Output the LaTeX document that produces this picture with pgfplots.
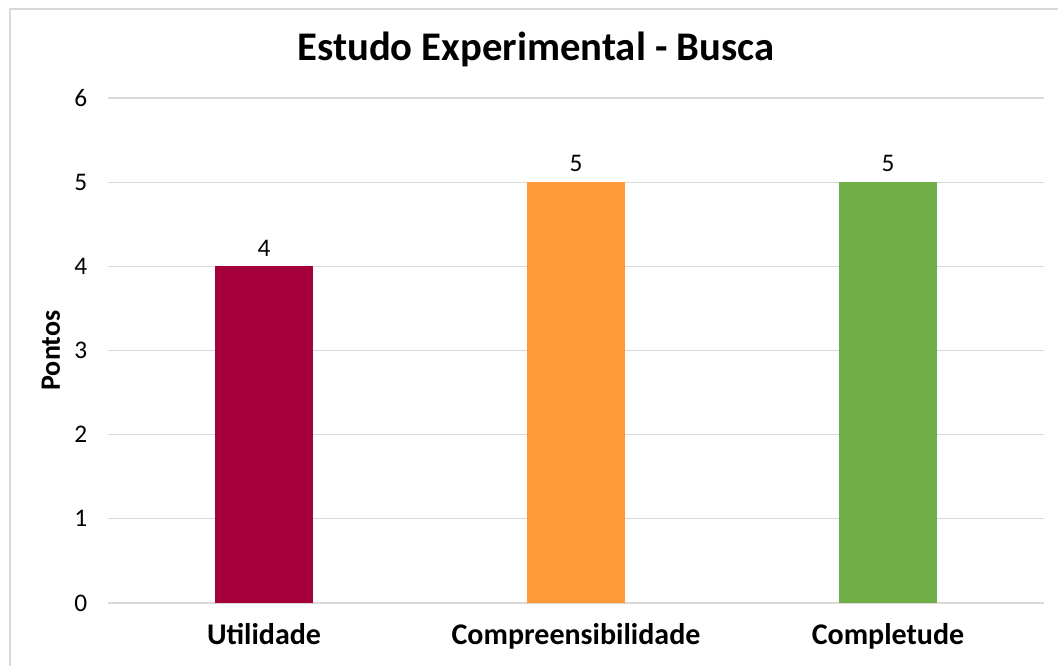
\documentclass[border=0pt]{standalone}
\usepackage{fontspec}
\setmainfont{Carlito}
\usepackage{pgfplots}
\pgfplotsset{compat=1.18}
\definecolor{cA}{HTML}{A5003C}
\definecolor{cB}{HTML}{FF9A3A}
\definecolor{cC}{HTML}{70AD47}
\definecolor{gridc}{HTML}{D9D9D9}
\begin{document}
\begin{tikzpicture}
\begin{axis}[
  at={(0,0)}, anchor=south west,
  scale only axis, width=702pt, height=378.75pt,
  xmin=-0.5, xmax=2.5, ymin=0, ymax=6,
  ytick={0,1,2,3,4,5,6},
  xtick={0,1,2},
  xticklabels={Utilidade,Compreensibilidade,Completude},
  x tick label style={font=\fontsize{22.5}{26}\selectfont\bfseries, yshift=-12pt},
  y tick label style={font=\fontsize{19}{22}\selectfont, xshift=-12pt},
  /pgf/number format/assume math mode=true,
  axis line style={draw=none},
  major tick length=0pt,
  ymajorgrids, grid style={gridc, line width=0.8pt},
  axis x line*=bottom,
  x axis line style={draw=gridc, line width=0.8pt},
  ylabel={\fontsize{21}{24}\selectfont\bfseries Pontos},
  ylabel style={yshift=4pt},
  title={\fontsize{30.5}{36}\selectfont\bfseries Estudo Experimental - Busca},
  title style={yshift=14pt, xshift=-30pt},
  ybar, bar width=0.314, bar shift=0pt,
  nodes near coords,
  nodes near coords style={font=\fontsize{19}{22}\selectfont, black, yshift=4pt},
  clip=false,
]
\addplot[fill=cA, draw=none] coordinates {(0,4)};
\addplot[fill=cB, draw=none] coordinates {(1,5)};
\addplot[fill=cC, draw=none] coordinates {(2,5)};
\end{axis}
\begin{scope}[x=0.75pt,y=0.75pt]
\draw[gridc,line width=1.5] (-98,-70) -- (-98,594) -- (960,594);
\pgfresetboundingbox
\useasboundingbox (-108,-63) rectangle (950,603);
\end{scope}
\end{tikzpicture}
\end{document}
